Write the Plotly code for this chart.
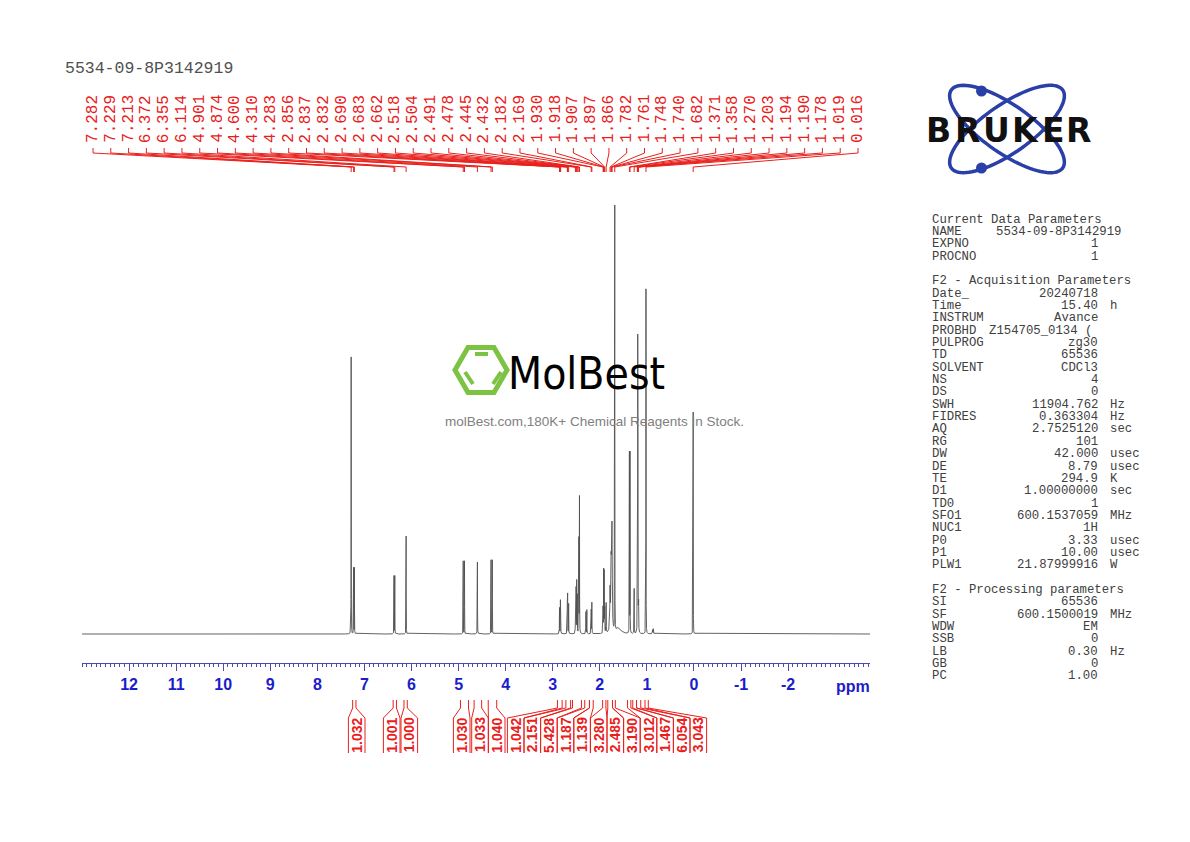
import numpy as np
import plotly.graph_objects as go

W, H = 1190, 842

# ---------------- data ----------------
peak_ppm = [7.282, 7.229, 7.213, 6.372, 6.355, 6.114, 4.901, 4.874, 4.600, 4.310, 4.283,
            2.856, 2.837, 2.832, 2.690, 2.683, 2.662, 2.518, 2.504, 2.491, 2.478, 2.445, 2.432,
            2.295, 2.275, 2.182, 2.169, 1.930, 1.918, 1.907, 1.897, 1.866,
            1.782, 1.761, 1.748, 1.740, 1.682, 1.600, 1.371, 1.358, 1.270,
            1.203, 1.194, 1.190, 1.178, 1.019, 0.880, 0.862, 0.016]
peak_height = [277, 66, 66, 58, 58, 98, 73, 73, 72, 74, 74,
               26, 30, 29, 36, 38, 30, 30, 48, 52, 38, 100, 136,
               22, 24, 30, 31, 40, 62, 60, 38, 30,
               40, 60, 70, 78, 425, 6, 180, 180, 45,
               140, 265, 240, 150, 345, 4, 5, 222]
peak_hwhm = [0.0015, 0.0015, 0.0015, 0.0015, 0.0015, 0.0015, 0.0015, 0.0015, 0.002, 0.0015, 0.0015,
             0.002, 0.002, 0.002, 0.002, 0.002, 0.002, 0.002, 0.002, 0.002, 0.002, 0.002, 0.002,
             0.002, 0.002, 0.002, 0.002, 0.002, 0.002, 0.002, 0.002, 0.003,
             0.006, 0.006, 0.006, 0.006, 0.0015, 0.06, 0.0015, 0.0015, 0.002,
             0.0015, 0.0015, 0.0015, 0.0015, 0.0015, 0.004, 0.004, 0.0015]

top_labels = ["7.282", "7.229", "7.213", "6.372", "6.355", "6.114", "4.901", "4.874", "4.600",
              "4.310", "4.283", "2.856", "2.837", "2.832", "2.690", "2.683", "2.662", "2.518",
              "2.504", "2.491", "2.478", "2.445", "2.432", "2.182", "2.169", "1.930", "1.918",
              "1.907", "1.897", "1.866", "1.782", "1.761", "1.748", "1.740", "1.682", "1.371",
              "1.358", "1.270", "1.203", "1.194", "1.190", "1.178", "1.019", "0.016"]

integral_labels = ["1.032", "1.001", "1.000", "1.030", "1.033", "1.040", "1.042", "2.151", "5.428",
                   "1.187", "1.139", "3.280", "2.485", "3.190", "3.012", "1.467", "6.054", "3.043"]
integral_start = [7.25, 6.39, 6.16, 4.96, 4.67, 4.37, 2.90, 2.72, 2.58, 2.32, 2.22, 1.94, 1.83,
                  1.73, 1.41, 1.30, 1.22, 1.04]
integral_end = [7.18, 6.32, 6.09, 4.79, 4.51, 4.19, 2.80, 2.62, 2.39, 2.22, 2.14, 1.87, 1.73,
                1.67, 1.34, 1.22, 1.13, 0.97]

axis_ticks = [12, 11, 10, 9, 8, 7, 6, 5, 4, 3, 2, 1, 0, -1, -2]
ppm_left, ppm_right = 13.0, -3.74

title_text = "5534-09-8P3142919"

param_rows = [
    ("Current Data Parameters", "", ""),
    ("NAME", "5534-09-8P3142919", ""),
    ("EXPNO", "1", ""),
    ("PROCNO", "1", ""),
    ("", "", ""),
    ("F2 - Acquisition Parameters", "", ""),
    ("Date_", "20240718", ""),
    ("Time", "15.40", "h"),
    ("INSTRUM", "Avance", ""),
    ("PROBHD", "Z154705_0134 (", ""),
    ("PULPROG", "zg30", ""),
    ("TD", "65536", ""),
    ("SOLVENT", "CDCl3", ""),
    ("NS", "4", ""),
    ("DS", "0", ""),
    ("SWH", "11904.762", "Hz"),
    ("FIDRES", "0.363304", "Hz"),
    ("AQ", "2.7525120", "sec"),
    ("RG", "101", ""),
    ("DW", "42.000", "usec"),
    ("DE", "8.79", "usec"),
    ("TE", "294.9", "K"),
    ("D1", "1.00000000", "sec"),
    ("TD0", "1", ""),
    ("SFO1", "600.1537059", "MHz"),
    ("NUC1", "1H", ""),
    ("P0", "3.33", "usec"),
    ("P1", "10.00", "usec"),
    ("PLW1", "21.87999916", "W"),
    ("", "", ""),
    ("F2 - Processing parameters", "", ""),
    ("SI", "65536", ""),
    ("SF", "600.1500019", "MHz"),
    ("WDW", "EM", ""),
    ("SSB", "0", ""),
    ("LB", "0.30", "Hz"),
    ("GB", "0", ""),
    ("PC", "1.00", ""),
]

# ---------------- layout helpers ----------------
X0_PX, X1_PX = 82, 870


def px2ppm(px):
    return ppm_left + (px - X0_PX) * (ppm_right - ppm_left) / (X1_PX - X0_PX)


RED = "#e8201c"
BLUE = "#1c1cc8"
GRAY = "#505050"
MONO = "Courier New, Liberation Mono, monospace"

# ---------------- spectrum ----------------
grid = [np.arange(ppm_right, ppm_left, 0.002)]
for p, w in zip(peak_ppm, peak_hwhm):
    grid.append(np.arange(p - 0.04, p + 0.04, min(w / 3, 0.0005)))
    grid.append(np.array([p]))
xs = np.unique(np.concatenate(grid))
xs = xs[(xs >= ppm_right) & (xs <= ppm_left)]
ys = np.zeros_like(xs)
for p, h, w in zip(peak_ppm, peak_height, peak_hwhm):
    ys += h / (1 + ((xs - p) / w) ** 2)

fig = go.Figure()
fig.add_trace(go.Scatter(x=[0], y=[0], xaxis="x2", yaxis="y2", mode="markers",
                         marker=dict(opacity=0), hoverinfo="skip", showlegend=False))
fig.add_trace(go.Scatter(x=xs, y=ys, mode="lines", line=dict(color=GRAY, width=0.9),
                         hoverinfo="skip", showlegend=False))

shapes = []
annotations = []

# top peak labels and connectors
lab_px = np.linspace(93, 858, len(top_labels))
for lp, txt in zip(lab_px, top_labels):
    xl = px2ppm(lp)
    xp = float(txt)
    annotations.append(dict(x=xl, y=119, xref="x", yref="y2", text=txt, textangle=-90,
                            showarrow=False, font=dict(family=MONO, size=16, color=RED),
                            xanchor="center", yanchor="middle"))
    shapes.append(dict(type="path", xref="x", yref="y2",
                       path=f"M{xl},148 L{xl},153 L{xp},167 L{xp},172",
                       line=dict(color=RED, width=1)))

# integrals
int_px = [356.7, 391.7, 409.3, 461.7, 480.0, 496.7] + [515.7 + i * 16.6 for i in range(12)]
hw = 8.3
for cp, txt, a, b in zip(int_px, integral_labels, integral_start, integral_end):
    xl = px2ppm(cp - hw)
    xr = px2ppm(cp + hw)
    annotations.append(dict(x=px2ppm(cp), y=735, xref="x", yref="y2", text=txt, textangle=-90,
                            showarrow=False,
                            font=dict(family="Liberation Sans, Arial, sans-serif", size=14,
                                      color=RED, weight="bold"),
                            xanchor="center", yanchor="middle"))
    shapes.append(dict(type="path", xref="x", yref="y2",
                       path=f"M{xl},753 L{xl},718 L{a},708 L{a},700",
                       line=dict(color=RED, width=1)))
    shapes.append(dict(type="path", xref="x", yref="y2",
                       path=f"M{xr},753 L{xr},718 L{b},708 L{b},700",
                       line=dict(color=RED, width=1)))

# ppm unit label
annotations.append(dict(x=px2ppm(853), y=686, xref="x", yref="y2", text="ppm", showarrow=False,
                        font=dict(family="Liberation Sans, Arial, sans-serif", size=16,
                                  color=BLUE, weight="bold"),
                        xanchor="center", yanchor="middle"))

# title
annotations.append(dict(x=63, y=68, xref="x2", yref="y2", text=title_text, showarrow=False,
                        font=dict(family=MONO, size=16.5, color="#505050"),
                        xanchor="left", yanchor="middle"))

# parameter panel
for i, (k, v, u) in enumerate(param_rows):
    yy = 219.5 + i * 12.35
    f = dict(family=MONO, size=12.3, color="#404040")
    if k:
        annotations.append(dict(x=930, y=yy, xref="x2", yref="y2", text=k, showarrow=False,
                                font=f, xanchor="left", yanchor="middle"))
    if v:
        xr = 1100
        if k == "NAME":
            xr = 1123
        elif k == "PROBHD":
            xr = 1094
        annotations.append(dict(x=xr, y=yy, xref="x2", yref="y2", text=v, showarrow=False,
                                font=f, xanchor="right", yanchor="middle"))
    if u:
        annotations.append(dict(x=1108, y=yy, xref="x2", yref="y2", text=u, showarrow=False,
                                font=f, xanchor="left", yanchor="middle"))


# Bruker logo
def ellipse_path(cx, cy, a, b, ang):
    t = np.linspace(0, 2 * np.pi, 90)
    c, s = np.cos(ang), np.sin(ang)
    px = cx + a * np.cos(t) * c - b * np.sin(t) * s
    py = cy + a * np.cos(t) * s + b * np.sin(t) * c
    return "M" + " L".join(f"{x:.2f},{y:.2f}" for x, y in zip(px, py)) + " Z"


LOGO_BLUE = "#2b3fa8"
for ang in (np.radians(35), np.radians(-35)):
    shapes.append(dict(type="path", xref="x2", yref="y2", path=ellipse_path(1007, 129, 68, 24, ang),
                       line=dict(color=LOGO_BLUE, width=3.5)))
for dy in (91, 168):
    shapes.append(dict(type="circle", xref="x2", yref="y2", x0=976, x1=987, y0=dy - 5.5, y1=dy + 5.5,
                       fillcolor=LOGO_BLUE, line=dict(width=0)))
bx = [938, 967, 996, 1025, 1053, 1078]
for ch, x in zip("BRUKER", bx):
    annotations.append(dict(x=x, y=130, xref="x2", yref="y2", text=ch, showarrow=False,
                            font=dict(family="DejaVu Sans, Liberation Sans, sans-serif", size=33,
                                      color="#111111", weight="bold"),
                            xanchor="center", yanchor="middle"))

# MolBest watermark
GREEN = "#7cc243"
R = 26
cx, cy = 481, 370
hx = [cx + R * np.cos(np.radians(a)) for a in range(0, 360, 60)]
hy = [cy + R * np.sin(np.radians(a)) for a in range(0, 360, 60)]
shapes.append(dict(type="path", xref="x2", yref="y2",
                   path="M" + " L".join(f"{x:.2f},{y:.2f}" for x, y in zip(hx, hy)) + " Z",
                   line=dict(color=GREEN, width=5)))
for (x0, y0, x1, y1) in [(475, 354, 488, 354), (465, 372, 473, 384), (501, 372, 493, 384)]:
    shapes.append(dict(type="line", xref="x2", yref="y2", x0=x0, y0=y0, x1=x1, y1=y1,
                       line=dict(color=GREEN, width=4)))
annotations.append(dict(x=586, y=373, xref="x2", yref="y2", text="MolBest", showarrow=False,
                        font=dict(family="DejaVu Sans Condensed, Liberation Sans Narrow, Arial Narrow, sans-serif",
                                  size=44, color="#000000"),
                        xanchor="center", yanchor="middle"))
annotations.append(dict(x=594, y=421, xref="x2", yref="y2",
                        text="molBest.com,180K+ Chemical Reagents In Stock.", showarrow=False,
                        font=dict(family="Liberation Sans, Arial, sans-serif", size=13.5, color="#808080"),
                        xanchor="center", yanchor="middle"))

fig.update_layout(
    width=W, height=H,
    margin=dict(l=0, r=0, t=0, b=0),
    paper_bgcolor="white", plot_bgcolor="rgba(0,0,0,0)",
    showlegend=False,
    xaxis=dict(domain=[X0_PX / W, X1_PX / W], range=[ppm_left, ppm_right], anchor="y",
               showgrid=False, zeroline=False, showline=True, linecolor="#4a4ab8", linewidth=1,
               tickmode="array", tickvals=axis_ticks, ticktext=[str(t) for t in axis_ticks],
               ticks="outside", ticklen=7, tickwidth=1, tickcolor="#4a4ab8",
               tickfont=dict(family="Liberation Sans, Arial, sans-serif", size=16, color=BLUE,
                             weight="bold"),
               minor=dict(tickmode="linear", tick0=0, dtick=0.1, ticks="outside", ticklen=3,
                          tickcolor="#4a4ab8", showgrid=False)),
    yaxis=dict(domain=[1 - 663 / H, 1 - 190 / H], range=[-29, 444], visible=False),
    xaxis2=dict(domain=[0, 1], range=[0, W], visible=False, anchor="y2"),
    yaxis2=dict(domain=[0, 1], range=[H, 0], visible=False, anchor="x2"),
    shapes=shapes,
    annotations=annotations,
)

fig.write_html("out.html")
